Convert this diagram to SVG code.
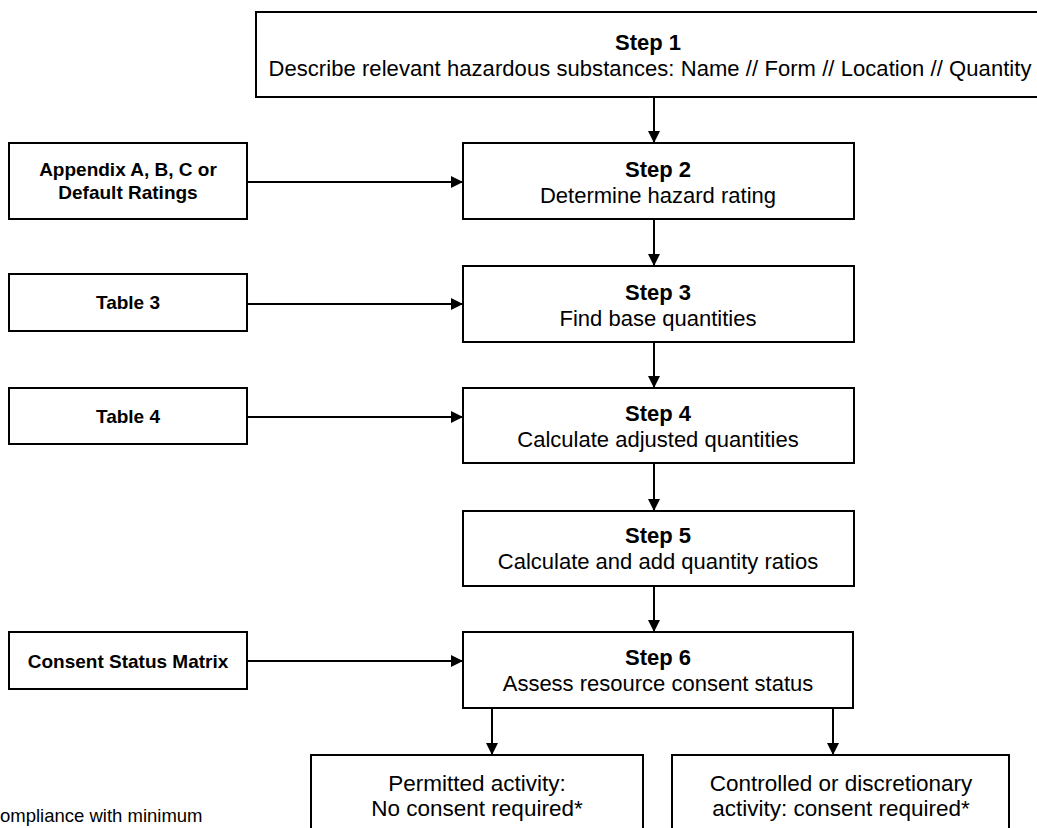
<svg xmlns="http://www.w3.org/2000/svg" width="1037" height="828" viewBox="0 0 1037 828">
<style>
.box{fill:#fff;stroke:#000;stroke-width:2}
.t{font-family:"Liberation Sans",Arial,sans-serif;fill:#000;text-anchor:middle}
.b{font-weight:bold}
.s{font-size:22px}
.l{font-size:19px}
.o{font-size:22.5px}
.edge{stroke:#000;stroke-width:2;fill:none;marker-end:url(#arr)}
</style>
<defs>
<marker id="arr" markerUnits="userSpaceOnUse" markerWidth="12" markerHeight="12" refX="12" refY="6" orient="auto">
<path d="M0,0 L12,6 L0,12 z" fill="#000"/>
</marker>
</defs>
<rect width="1037" height="828" fill="#fff"/>
<g id="connectors">
<line class="edge" x1="654" y1="97" x2="654" y2="143"/>
<line class="edge" x1="654" y1="219" x2="654" y2="266"/>
<line class="edge" x1="654" y1="342" x2="654" y2="388"/>
<line class="edge" x1="654" y1="463" x2="654" y2="511"/>
<line class="edge" x1="654" y1="586" x2="654" y2="632"/>
<line class="edge" x1="492" y1="708" x2="492" y2="755"/>
<line class="edge" x1="833" y1="708" x2="833" y2="755"/>
<line class="edge" x1="247" y1="182" x2="463" y2="182"/>
<line class="edge" x1="247" y1="304" x2="463" y2="304"/>
<line class="edge" x1="247" y1="417" x2="463" y2="417"/>
<line class="edge" x1="247" y1="661" x2="463" y2="661"/>
</g>
<g id="step1">
<rect class="box" x="256" y="12" width="790" height="85"/>
<text class="t b s" x="648" y="50">Step 1</text>
<text class="t s" x="650" y="76" textLength="763" lengthAdjust="spacing">Describe relevant hazardous substances: Name // Form // Location // Quantity</text>
</g>
<g id="step2">
<rect class="box" x="463" y="143" width="391" height="76"/>
<text class="t b s" x="658" y="177">Step 2</text>
<text class="t s" x="658" y="203">Determine hazard rating</text>
</g>
<g id="step3">
<rect class="box" x="463" y="266" width="391" height="76"/>
<text class="t b s" x="658" y="300">Step 3</text>
<text class="t s" x="658" y="326">Find base quantities</text>
</g>
<g id="step4">
<rect class="box" x="463" y="388" width="391" height="75"/>
<text class="t b s" x="658" y="421">Step 4</text>
<text class="t s" x="658" y="447">Calculate adjusted quantities</text>
</g>
<g id="step5">
<rect class="box" x="463" y="511" width="391" height="75"/>
<text class="t b s" x="658" y="543">Step 5</text>
<text class="t s" x="658" y="569">Calculate and add quantity ratios</text>
</g>
<g id="step6">
<rect class="box" x="463" y="632" width="390" height="76"/>
<text class="t b s" x="658" y="665">Step 6</text>
<text class="t s" x="658" y="691">Assess resource consent status</text>
</g>
<g id="appendix">
<rect class="box" x="9" y="143" width="238" height="76"/>
<text class="t b l" x="128" y="176">Appendix A, B, C or</text>
<text class="t b l" x="128" y="199">Default Ratings</text>
</g>
<g id="table3">
<rect class="box" x="9" y="274" width="238" height="57"/>
<text class="t b l" x="128" y="309">Table 3</text>
</g>
<g id="table4">
<rect class="box" x="9" y="388" width="238" height="56"/>
<text class="t b l" x="128" y="423">Table 4</text>
</g>
<g id="matrix">
<rect class="box" x="9" y="632" width="238" height="57"/>
<text class="t b l" x="128" y="668">Consent Status Matrix</text>
</g>
<g id="permitted">
<rect class="box" x="311" y="755" width="332" height="90"/>
<text class="t o" x="477" y="791">Permitted activity:</text>
<text class="t o" x="477" y="816">No consent required*</text>
</g>
<g id="controlled">
<rect class="box" x="672" y="755" width="337" height="90"/>
<text class="t o" x="841" y="791">Controlled or discretionary</text>
<text class="t o" x="841" y="816">activity: consent required*</text>
</g>
<text class="t" x="0" y="822" style="font-size:18.5px;text-anchor:start">ompliance with minimum</text>
</svg>
